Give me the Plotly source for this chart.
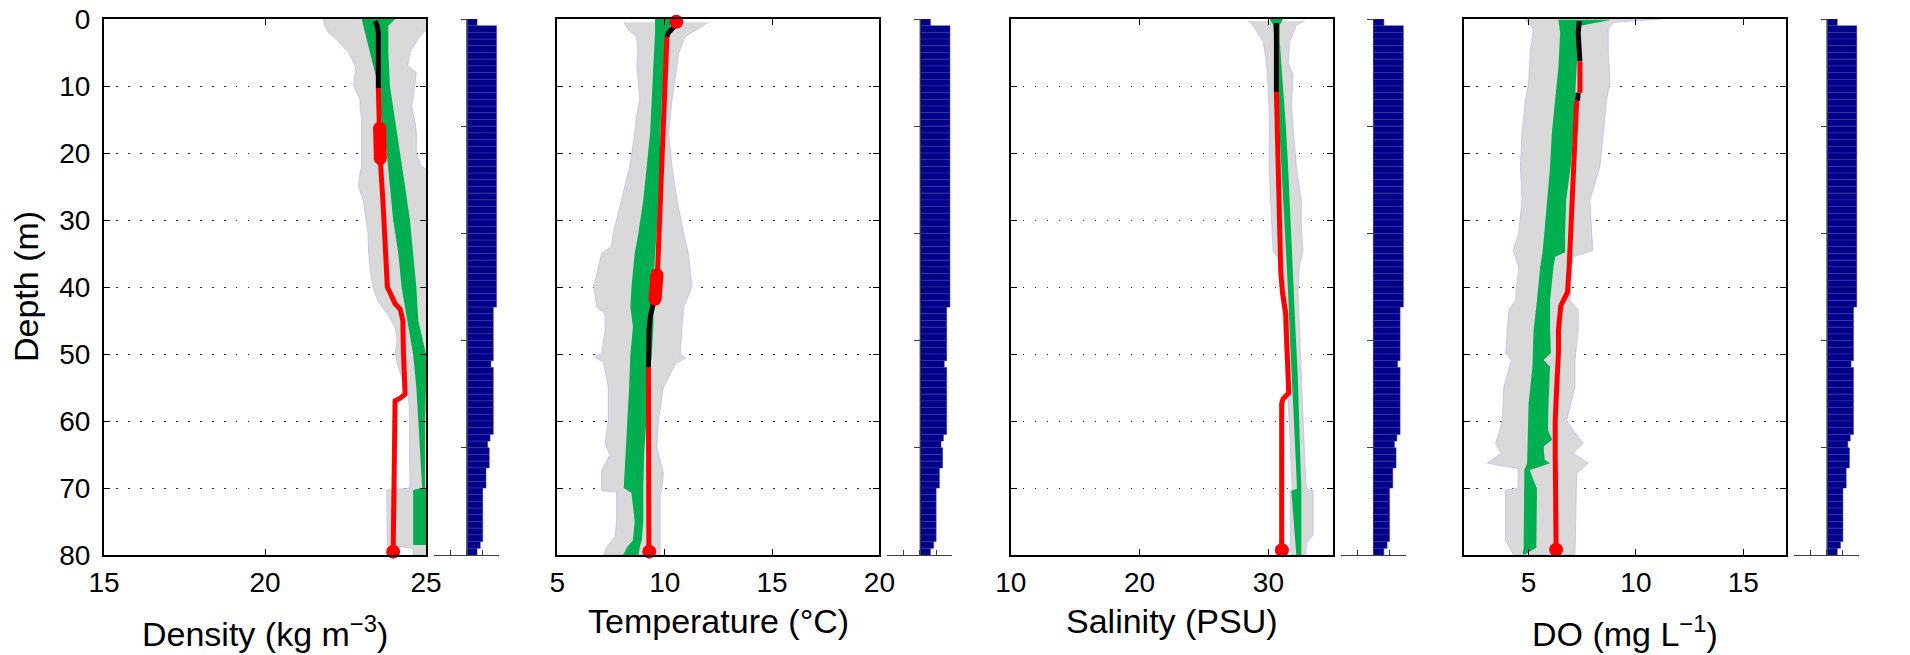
import plotly.graph_objects as go

# ---------------- DATA ----------------
# Density panel
dens_gray_lo_depth = [0, 1, 2, 3, 5, 7, 8, 10, 12, 13, 15, 17, 20, 22, 23, 25, 27, 30, 32, 35, 37, 40, 42, 44, 46, 48, 50, 52, 54, 56, 58, 60, 65, 70, 70.3, 75, 78.5, 79, 80]
dens_gray_lo = [21.81, 21.85, 21.97, 22.2, 22.6, 22.8, 22.8, 22.75, 22.95, 22.95, 23.0, 23.0, 23.0, 23.0, 22.95, 22.9, 23.05, 23.15, 23.2, 23.22, 23.26, 23.35, 23.5, 23.8, 24.04, 24.1, 24.04, 24.14, 24.3, 24.45, 24.48, 24.48, 24.48, 24.5, 23.78, 23.78, 23.8, 24.6, 24.6]
dens_gray_hi_depth = [0, 1, 2, 3, 5, 7, 8, 10, 12, 13, 15, 17, 20, 22, 23, 80]
dens_gray_hi = [25.3, 25.3, 24.9, 24.75, 24.5, 24.43, 24.7, 24.65, 24.6, 24.55, 24.65, 24.7, 24.7, 24.85, 25.3, 25.3]
dens_green_depth = [0, 1, 5, 10, 15, 20, 25, 30, 35, 40, 45, 50, 55, 60, 65, 70, 70.3, 75, 78.5]
dens_green_lo = [23.0, 23.05, 23.26, 23.52, 23.62, 23.78, 23.88, 23.98, 24.14, 24.24, 24.42, 24.6, 24.7, 24.76, 24.82, 24.88, 24.6, 24.6, 24.6]
dens_green_hi = [24.04, 23.83, 23.83, 23.88, 24.04, 24.2, 24.35, 24.5, 24.6, 24.7, 24.76, 25.0, 25.0, 24.97, 24.97, 24.97, 25.0, 25.0, 25.0]
dens_black_depth = [0.3, 1, 2, 5, 10.3]
dens_black = [23.42, 23.48, 23.52, 23.52, 23.52]
dens_red_depth = [10.3, 16, 21, 27, 32, 37, 40, 41, 42.5, 43.3, 45, 50, 56, 56.6, 57, 79.5]
dens_red = [23.52, 23.54, 23.58, 23.66, 23.7, 23.75, 23.8, 23.9, 24.04, 24.2, 24.28, 24.3, 24.35, 24.2, 24.04, 23.98]
dens_thick_depth = [16.3, 20.8]
dens_thick = [23.56, 23.58]
dens_dot_depth = [79.5]
dens_dot = [23.98]

# Temperature panel
temp_gray_lo_depth = [0.5, 1.6, 2.6, 4.6, 7.1, 12.1, 14.6, 17.1, 22, 27, 32, 34, 35, 37, 40, 43, 44, 46.4, 50, 50.5, 51.2, 55, 60, 63.4, 65, 67.4, 70.4, 70.6, 75, 77.3, 78.8, 80]
temp_gray_lo = [8.1, 8.29, 8.68, 8.75, 8.7, 8.84, 8.68, 8.6, 8.37, 7.99, 7.6, 7.5, 7.06, 6.91, 6.7, 6.83, 7.22, 7.22, 7.06, 6.75, 7.14, 7.37, 7.37, 7.22, 7.45, 7.06, 7.06, 7.76, 7.76, 7.68, 7.3, 7.14]
temp_gray_hi_depth = [0.5, 1.6, 2.6, 5.1, 7.1, 12.1, 17.1, 22, 27, 32, 35, 40, 43, 46.4, 50, 50.6, 51.5, 55, 60, 64, 67.8, 70.4, 71, 80]
temp_gray_hi = [12.03, 11.5, 10.96, 10.65, 10.57, 10.34, 10.18, 10.34, 10.57, 10.88, 11.1, 11.27, 10.88, 10.8, 10.72, 10.96, 10.49, 9.94, 9.7, 9.63, 9.94, 9.86, 9.78, 9.78]
temp_green_depth = [0, 2, 7, 12, 17, 22, 27, 32, 35, 40, 43, 46, 50, 55, 60, 65, 70, 70.7, 75, 77.8, 78.8, 80]
temp_green_lo = [9.55, 9.55, 9.47, 9.4, 9.32, 9.16, 9.0, 8.77, 8.6, 8.45, 8.4, 8.52, 8.4, 8.34, 8.25, 8.18, 8.09, 8.45, 8.6, 8.52, 8.25, 8.06]
temp_green_hi = [10.34, 10.18, 10.0, 9.86, 9.8, 9.78, 9.7, 9.62, 9.55, 9.47, 9.47, 9.47, 9.4, 9.24, 9.13, 9.04, 9.0, 9.0, 9.0, 8.93, 8.84, 8.78]
temp_black_depth = [0.3, 1, 2.1, 2.7, None, 42, 44.4, 46.4, 52]
temp_black = [10.54, 10.47, 10.16, 10.1, None, 9.5, 9.33, 9.27, 9.24]
temp_red_depth = [2.7, 10, 22, 32, 38, None, 52, 79.5]
temp_red = [10.1, 10.0, 9.86, 9.73, 9.66, None, 9.24, 9.26]
temp_thick_depth = [38.2, 41.8]
temp_thick = [9.64, 9.55]
temp_dot_depth = [0.4, 79.5]
temp_dot = [10.54, 9.28]

# Salinity panel
sal_gray_lo_depth = [0.3, 0.9, 3.4, 6.5, 9.7, 15.9, 22.1, 28.4, 34.6, 35.8, 40.8, 47, 53.3, 56, 59.5, 65.8, 70.1, 70.4, 78.2, 80]
sal_gray_lo = [28.42, 28.8, 29.59, 29.85, 29.97, 30.1, 30.05, 30.23, 30.36, 30.8, 31.0, 31.2, 31.4, 31.5, 31.6, 31.75, 31.85, 31.7, 31.7, 31.8]
sal_gray_hi_depth = [0.3, 0.9, 3.4, 6.5, 8.4, 12.8, 15.9, 22.1, 27.1, 31.5, 34.6, 37, 40.8, 47, 52, 59.5, 65.8, 70.1, 70.4, 77, 78.2, 80]
sal_gray_hi = [32.82, 32.17, 31.66, 31.53, 31.92, 31.78, 31.92, 32.17, 32.56, 32.56, 32.69, 32.4, 32.3, 32.43, 32.56, 32.69, 32.82, 32.95, 33.47, 33.47, 32.95, 32.9]
sal_green_depth = [0, 0.9, 3.4, 9.7, 15.9, 22.1, 28.4, 34.6, 40.8, 47.1, 53.3, 59.5, 65.8, 70.1, 70.4, 80]
sal_green_lo = [30.1, 30.36, 30.49, 30.67, 30.83, 31.0, 31.19, 31.35, 31.53, 31.66, 31.84, 31.97, 32.12, 32.22, 31.78, 32.17]
sal_green_hi = [31.14, 30.88, 30.88, 31.14, 31.35, 31.53, 31.71, 31.86, 31.97, 32.12, 32.28, 32.38, 32.48, 32.56, 32.56, 32.56]
sal_black_depth = [0.6, 10.9]
sal_black = [30.62, 30.62]
sal_red_depth = [10.9, 15.9, 22.1, 28.4, 34.6, 37.7, 40.8, 42.7, 44, 47.1, 53.3, 55.8, 56.7, 57.4, 79.2]
sal_red = [30.62, 30.67, 30.75, 30.83, 30.88, 30.96, 31.09, 31.19, 31.35, 31.4, 31.53, 31.58, 31.14, 31.03, 31.03]
sal_thick_depth = []
sal_thick = []
sal_dot_depth = [79.3]
sal_dot = [31.05]

# Dissolved oxygen panel
do_gray_lo_depth = [0, 1.6, 4.6, 9.6, 12.1, 17.1, 22, 27, 32, 34.5, 37, 42, 43.4, 46.4, 49.9, 50.9, 54.9, 59.9, 61.8, 63.3, 64.8, 66.3, 67.1, 70.0, 70.3, 77.8, 79.3, 80]
do_gray_lo = [4.85, 5.23, 5.08, 5.0, 4.85, 4.69, 4.62, 4.69, 4.54, 4.28, 4.54, 4.39, 4.08, 4.0, 3.93, 4.2, 3.85, 3.77, 3.62, 3.46, 3.7, 3.08, 4.51, 4.51, 3.93, 3.93, 4.2, 4.3]
do_gray_hi_depth = [0, 0.5, 1.6, 4.6, 9.6, 12.1, 17.1, 22, 27, 32, 34.5, 35.5, 37, 42, 43.4, 46.4, 50.9, 54.9, 59.9, 61.3, 63.3, 64.8, 66.3, 67.8, 70.3, 80]
do_gray_hi = [11.25, 8.94, 8.71, 8.71, 8.79, 8.63, 8.48, 8.32, 7.86, 7.94, 8.0, 7.08, 7.0, 6.93, 7.31, 7.31, 7.16, 7.16, 6.77, 7.05, 7.54, 7.08, 7.78, 7.24, 7.24, 7.16]
do_green_depth = [0.1, 1.1, 2.1, 7.1, 12.1, 17.1, 22, 27, 32, 34.8, 35.5, 37, 42, 46.4, 49.9, 50.9, 51.9, 57.4, 61.3, 62.8, 63.8, 65.8, 66.3, 67.3, 70.1, 78.9, 79.9]
do_green_lo = [6.39, 6.43, 6.47, 6.39, 6.24, 6.08, 6.0, 5.88, 5.73, 5.65, 5.62, 5.54, 5.39, 5.23, 5.2, 5.2, 5.18, 5.0, 4.97, 4.96, 4.95, 4.93, 4.93, 4.8, 4.8, 4.77, 4.72]
do_green_hi = [8.86, 7.31, 7.36, 7.24, 7.16, 7.08, 6.96, 6.75, 6.7, 6.7, 6.24, 6.16, 6.0, 6.0, 6.04, 5.7, 6.0, 5.93, 5.9, 6.1, 5.7, 5.75, 6.0, 5.05, 5.39, 5.36, 4.85]
do_black_depth = [0.3, 2.1, 6.3, None, 11, 12.2]
do_black = [7.36, 7.31, 7.39, None, 7.31, 7.28]
do_red_depth = [6.3, 11, None, 12.2, 17.1, 22, 27, 32, 37, 40.8, 42.8, 46.4, 49.9, 54.9, 59.9, 64.9, 69.9, 79.2]
do_red = [7.39, 7.39, None, 7.24, 7.18, 7.08, 7.02, 6.97, 6.89, 6.81, 6.5, 6.39, 6.39, 6.31, 6.24, 6.24, 6.24, 6.28]
do_thick_depth = []
do_thick = []
do_dot_depth = [79.2]
do_dot = [6.28]

# Number of profiles per 1-m depth bin (same sampling for all variables)
bin_depth = [d + 0.5 for d in range(80)]
profile_count = ([13] + [37] * 42 + [33] * 8 + [30] + [33] * 10 + [29] + [26]
                 + [28] * 3 + [24] * 3 + [20] * 8 + [17] + [13])

x_ranges = [[15, 25], [5, 20], [10, 35], [2, 17]]
x_ticks = [[15, 20, 25], [5, 10, 15, 20], [10, 20, 30], [5, 10, 15]]
x_titles = ["Density (kg m<sup>\u22123</sup>)", "Temperature (\u00b0C)",
            "Salinity (PSU)", "DO (mg L<sup>\u22121</sup>)"]
depth_ticks = [0, 10, 20, 30, 40, 50, 60, 70, 80]
count_ticks = [0, 16, 32, 48, 64, 80]

panels = [
    (dens_gray_lo_depth, dens_gray_lo, dens_gray_hi_depth, dens_gray_hi, dens_green_depth, dens_green_lo, dens_green_hi,
     dens_black_depth, dens_black, dens_red_depth, dens_red, dens_thick_depth, dens_thick, dens_dot_depth, dens_dot),
    (temp_gray_lo_depth, temp_gray_lo, temp_gray_hi_depth, temp_gray_hi, temp_green_depth, temp_green_lo, temp_green_hi,
     temp_black_depth, temp_black, temp_red_depth, temp_red, temp_thick_depth, temp_thick, temp_dot_depth, temp_dot),
    (sal_gray_lo_depth, sal_gray_lo, sal_gray_hi_depth, sal_gray_hi, sal_green_depth, sal_green_lo, sal_green_hi,
     sal_black_depth, sal_black, sal_red_depth, sal_red, sal_thick_depth, sal_thick, sal_dot_depth, sal_dot),
    (do_gray_lo_depth, do_gray_lo, do_gray_hi_depth, do_gray_hi, do_green_depth, do_green_lo, do_green_hi,
     do_black_depth, do_black, do_red_depth, do_red, do_thick_depth, do_thick, do_dot_depth, do_dot),
]

# ---------------- LAYOUT / DRAWING ----------------
W, H = 1910, 655
FONT = "Liberation Sans, Arial, Helvetica, sans-serif"
TICK_SIZE = 28
TITLE_SIZE = 34
plot_top, plot_bot = 19, 555
ydom = [(H - plot_bot) / H, (H - plot_top) / H]
panel_left = [104, 557.4, 1010.8, 1464.2]
main_w = 322
strip_off, strip_w = 330, 65
title_bottom = [0, 13, 13, 0]   # px above the page bottom (labels with superscripts sit lower)

GRAY = "#d9d9d9"
GRAY_EDGE = "#b8b8f2"
GREEN = "#00b050"
RED = "#ff0000"
NAVY = "#000088"

fig = go.Figure()
layout = dict(
    width=W, height=H, margin=dict(l=0, r=0, t=0, b=0, pad=0), autosize=False,
    paper_bgcolor="white", plot_bgcolor="white", showlegend=False,
    font=dict(family=FONT, color="black"),
)
annotations = []

for i, p in enumerate(panels):
    (g_ld, g_l, g_hd, g_h, gr_d, gr_l, gr_h, b_d, b_v, r_d, r_v, t_d, t_v, d_d, d_v) = p
    mx, my = f"x{2*i+1}", f"y{2*i+1}"
    sx, sy = f"x{2*i+2}", f"y{2*i+2}"
    L = panel_left[i]

    # grey envelope
    fig.add_trace(go.Scatter(x=list(g_l) + list(g_h)[::-1], y=list(g_ld) + list(g_hd)[::-1],
                             fill="toself", fillcolor=GRAY, mode="lines",
                             line=dict(color=GRAY_EDGE, width=0.7), xaxis=mx, yaxis=my, hoverinfo="skip"))
    # green envelope
    fig.add_trace(go.Scatter(x=list(gr_l) + list(gr_h)[::-1], y=list(gr_d) + list(gr_d)[::-1],
                             fill="toself", fillcolor=GREEN, mode="lines",
                             line=dict(color=GREEN, width=0), xaxis=mx, yaxis=my, hoverinfo="skip"))
    # black profile segments
    fig.add_trace(go.Scatter(x=b_v, y=b_d, mode="lines", connectgaps=False,
                             line=dict(color="black", width=5), xaxis=mx, yaxis=my))
    # red profile segments
    fig.add_trace(go.Scatter(x=r_v, y=r_d, mode="lines", connectgaps=False,
                             line=dict(color=RED, width=5), xaxis=mx, yaxis=my))
    if t_v:
        fig.add_trace(go.Scatter(x=t_v, y=t_d, mode="lines+markers",
                                 line=dict(color=RED, width=13),
                                 marker=dict(color=RED, size=13, line=dict(width=0)),
                                 xaxis=mx, yaxis=my))
    fig.add_trace(go.Scatter(x=d_v, y=d_d, mode="markers", cliponaxis=False,
                             marker=dict(color=RED, size=14, line=dict(width=0)),
                             xaxis=mx, yaxis=my))

    # profile-count strip
    fig.add_trace(go.Bar(x=profile_count, y=bin_depth, orientation="h", width=1,
                         marker=dict(color=NAVY, line=dict(color="#3a3aa8", width=0.5)),
                         xaxis=sx, yaxis=sy))

    ax = dict(domain=[L / W, (L + main_w) / W], range=x_ranges[i], anchor=my,
              showline=True, linecolor="black", linewidth=2, mirror="ticks",
              ticks="inside", ticklen=6, tickwidth=1, tickcolor="black",
              tickvals=x_ticks[i], ticktext=[str(v) for v in x_ticks[i]],
              tickfont=dict(size=TICK_SIZE, family=FONT, color="black"),
              showgrid=False, zeroline=False, ticklabelstandoff=1, automargin=False)
    ay = dict(domain=ydom, range=[80, 0], anchor=mx,
              showline=True, linecolor="black", linewidth=2, mirror="ticks",
              ticks="inside", ticklen=6, tickwidth=1, tickcolor="black",
              tickvals=depth_ticks, showticklabels=(i == 0),
              tickfont=dict(size=TICK_SIZE, family=FONT, color="black"),
              showgrid=True, gridcolor="#303030", gridwidth=1.2, griddash="1.5px,10.5px",
              zeroline=False, ticklabelstandoff=6, automargin=False)
    sxa = dict(domain=[(L + strip_off) / W, (L + strip_off + strip_w) / W], range=[-40, 40],
               anchor=sy, showline=True, linecolor="#404040", linewidth=1,
               ticks="inside", ticklen=5, tickwidth=1, tickcolor="#404040",
               tickvals=[-40, -20, 0, 20, 40], showticklabels=False,
               showgrid=False, zeroline=False, automargin=False)
    sya = dict(domain=ydom, range=[80, 0], anchor="free",
               position=(L + strip_off + strip_w / 2) / W,
               showline=True, linecolor="#404040", linewidth=1,
               ticks="outside", ticklen=6, tickwidth=1, tickcolor="#404040",
               tickvals=count_ticks, showticklabels=False,
               showgrid=False, zeroline=False, automargin=False)
    layout["xaxis" if i == 0 else f"xaxis{2*i+1}"] = ax
    layout[f"yaxis{2*i+1}" if i > 0 else "yaxis"] = ay
    layout[f"xaxis{2*i+2}"] = sxa
    layout[f"yaxis{2*i+2}"] = sya

    annotations.append(dict(text=x_titles[i], xref="paper", yref="paper",
                            x=(L + main_w / 2) / W, y=title_bottom[i] / H,
                            xanchor="center", yanchor="bottom",
                            showarrow=False, font=dict(size=TITLE_SIZE, family=FONT, color="black")))

annotations.append(dict(text="Depth (m)", xref="paper", yref="paper", x=26 / W,
                        y=(H - 287) / H, xanchor="center", yanchor="middle", textangle=-90,
                        showarrow=False, font=dict(size=TITLE_SIZE, family=FONT, color="black")))
layout["annotations"] = annotations
fig.update_layout(**layout)
fig.write_html("out.html", config={"displayModeBar": False},
               post_script="document.body.style.margin='0';document.body.style.padding='0';"
                           "document.body.style.overflow='hidden';")
